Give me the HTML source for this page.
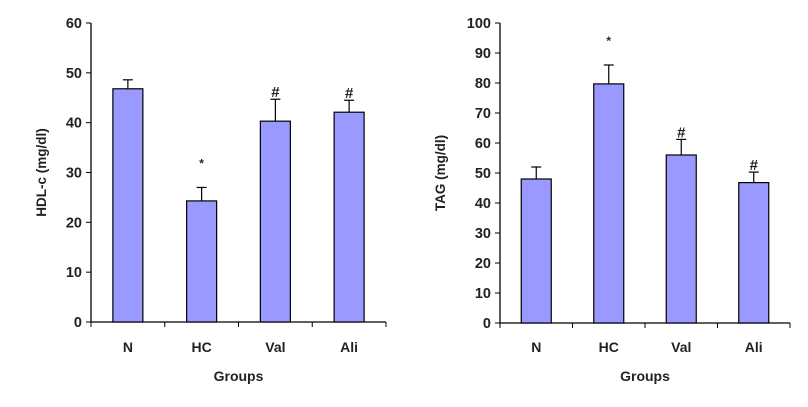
<!DOCTYPE html>
<html><head><meta charset="utf-8"><style>
body{margin:0;background:#fff}
svg text{font-family:"Liberation Sans",Arial,sans-serif;font-weight:bold;fill:#222}
</style></head><body>
<svg id="s" width="808" height="402"></svg>
<script>
const categories=["N","HC","Val","Ali"];
const hdlValues=[46.8,24.3,40.3,42.1];
const hdlErrors=[1.8,2.7,4.4,2.4];
const hdlMarks=["","*","#","#"];
const hdlTicks=[0,10,20,30,40,50,60];
const tagValues=[48,79.7,56,46.8];
const tagErrors=[4,6.3,5.2,3.5];
const tagMarks=["","*","#","#"];
const tagTicks=[0,10,20,30,40,50,60,70,80,90,100];
const NS="http://www.w3.org/2000/svg";
const svg=document.getElementById('s');
function mk(t,a,p){const e=document.createElementNS(NS,t);for(const k in a)e.setAttribute(k,a[k]);(p||svg).appendChild(e);return e;}
function chart(name,x0,x1,yTop,y0,max,vals,errs,marks,ticks,title,titleX){
  const g=mk('g',{});
  
  
  const y=v=>y0-(v/max)*(y0-yTop);
  const cw=(x1-x0)/categories.length;
  mk('line',{x1:x0,y1:yTop,x2:x0,y2:y0,stroke:'#000','stroke-width':1.3},g);
  mk('line',{x1:x0,y1:y0,x2:x1,y2:y0,stroke:'#000','stroke-width':1.3},g);
  ticks.forEach(t=>{
    mk('line',{x1:x0-5,y1:y(t),x2:x0,y2:y(t),stroke:'#000'},g);
    const tx=mk('text',{x:x0-9,y:y(t)+5,'text-anchor':'end','font-size':14.5},g);
    tx.textContent=t;
    
    
  });
  for(let i=0;i<=categories.length;i++)mk('line',{x1:x0+i*cw,y1:y0,x2:x0+i*cw,y2:y0+5,stroke:'#000'},g);
  categories.forEach((c,i)=>{
    const cx=x0+cw*(i+0.5);
    const b=mk('rect',{x:cx-15,y:y(vals[i]),width:30,height:y0-y(vals[i]),fill:'#9999ff',stroke:'#000','stroke-width':1.2},g);
    
    
    const ye=y(vals[i]+errs[i]);
    mk('line',{x1:cx,y1:y(vals[i]),x2:cx,y2:ye,stroke:'#000','stroke-width':1.2},g);
    mk('line',{x1:cx-5,y1:ye,x2:cx+5,y2:ye,stroke:'#000','stroke-width':1.2},g);
    if(marks[i]){
      const m=mk('text',{x:cx,y:marks[i]=='*'?ye-20:ye-2,'text-anchor':'middle','font-size':marks[i]=='*'?12:15,'font-weight':'normal'},g);
      m.textContent=marks[i];
      
      
    }
    const l=mk('text',{x:cx,y:352,'text-anchor':'middle','font-size':14},g);
    l.textContent=c;
    
    
  });
  const xt=mk('text',{x:(x0+x1)/2,y:381,'text-anchor':'middle','font-size':14},g);
  xt.textContent='Groups';
  
  
  const yt=mk('text',{x:0,y:0,'text-anchor':'middle','font-size':13.5,transform:`translate(${titleX},${(yTop+y0)/2}) rotate(-90)`},g);
  yt.textContent=title;
  
  
}
chart('hdl-chart',91,386,23,322,60,hdlValues,hdlErrors,hdlMarks,hdlTicks,'HDL-c (mg/dl)',46);
chart('tag-chart',500,790,23,323,100,tagValues,tagErrors,tagMarks,tagTicks,'TAG (mg/dl)',445);
</script>
</body></html>
